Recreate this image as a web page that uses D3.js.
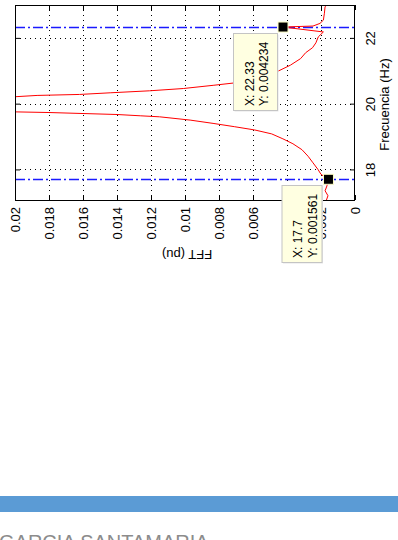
<!DOCTYPE html>
<html>
<head>
<meta charset="utf-8">
<script src="https://cdn.jsdelivr.net/npm/d3@7"></script>
<style>
  html, body { margin: 0; padding: 0; background: #ffffff; }
  svg { display: block; font-family: "Liberation Sans", Arial, sans-serif; }
</style>
</head>
<body>
<svg id="chart" width="398" height="540"></svg>
<script>
// ---- Data ----
const freqHz = [17.07, 17.2, 17.35, 17.5, 17.7, 17.85, 18.0, 18.2, 18.4, 18.6, 18.78, 18.93, 19.08, 19.2, 19.3, 19.4, 19.5, 19.6, 19.63, 19.67, 19.7, 19.73, 19.76, 19.85, 20.0, 20.15, 20.21, 20.25, 20.28, 20.33, 20.39, 20.46, 20.56, 20.63, 20.8, 20.97, 21.17, 21.37, 21.55, 21.7, 21.85, 22.03, 22.18, 22.33, 22.36, 22.44, 22.54, 22.75, 22.95, 23.0];
const fftPu  = [0.00168, 0.00159, 0.00176, 0.00165, 0.001561, 0.0020, 0.00218, 0.00247, 0.00276, 0.00312, 0.00365, 0.00424, 0.00490, 0.0059, 0.0071, 0.00835, 0.0097, 0.0115, 0.0126, 0.0140, 0.0160, 0.0180, 0.0210, 0.030, 0.045, 0.028, 0.0200, 0.0187, 0.0162, 0.0144, 0.0121, 0.0101, 0.0083, 0.0071, 0.0055, 0.0046, 0.0038, 0.0032, 0.0029, 0.0025, 0.0023, 0.00216, 0.00186, 0.004234, 0.00247, 0.00206, 0.00186, 0.0018, 0.00176, 0.00165];
const valueTicks = [0, 0.002, 0.004, 0.006, 0.008, 0.01, 0.012, 0.014, 0.016, 0.018, 0.02];
const valueTickLabels = ["0", "0.002", "0.004", "0.006", "0.008", "0.01", "0.012", "0.014", "0.016", "0.018", "0.02"];
const freqTicks = [18, 20, 22];
const freqTickLabels = ["18", "20", "22"];
const markerFreqs = [17.7, 22.33];
const markerValues = [0.001561, 0.004234];
const freqDomain = [17.07, 23];
const valueDomain = [0, 0.02];
const freqLabel = "Frecuencia (Hz)";
const valueLabel = "FFT (pu)";
const footerText = "GARCIA SANTAMARIA";

// ---- Layout ----
const svg = d3.select("#chart");
const L = 15, R = 355, T = 5, B = 200;
const xV = d3.scaleLinear().domain(valueDomain).range([R, L]);
const yF = d3.scaleLinear().domain(freqDomain).range([B, T]);

svg.append("defs").append("clipPath").attr("id", "plotclip")
  .append("rect").attr("x", L).attr("y", T).attr("width", R - L).attr("height", B - T);

svg.append("rect").attr("x", L).attr("y", T).attr("width", R - L).attr("height", B - T).attr("fill", "#fff");

// grid (dotted)
const grid = svg.append("g").attr("stroke", "#000").attr("stroke-width", 1).attr("stroke-dasharray", "1,4")
  .attr("shape-rendering", "crispEdges");
grid.selectAll("line.gv").data(valueTicks.filter(d => d > 0 && d < 0.02)).join("line").attr("class", "gv")
  .attr("x1", d => Math.round(xV(d)) + 0.5).attr("x2", d => Math.round(xV(d)) + 0.5)
  .attr("y1", T).attr("y2", B);
grid.selectAll("line.gf").data(freqTicks).join("line").attr("class", "gf")
  .attr("y1", d => Math.round(yF(d)) + 0.5).attr("y2", d => Math.round(yF(d)) + 0.5)
  .attr("x1", L).attr("x2", R);

// blue dash-dot reference lines at marker frequencies
svg.append("g").attr("class", "refs").selectAll("line").data(markerFreqs).join("line")
  .attr("x1", L).attr("x2", R)
  .attr("y1", d => Math.round(yF(d)) + 0.5).attr("y2", d => Math.round(yF(d)) + 0.5)
  .style("stroke", "#1a1aff").style("stroke-width", "1.6px").style("stroke-dasharray", "10,3,2,3");

// red curve
const pts = freqHz.map((f, i) => [f, fftPu[i]]);
svg.append("path").datum(pts)
  .attr("clip-path", "url(#plotclip)")
  .attr("fill", "none").attr("stroke", "#ff0000").attr("stroke-width", 1)
  .attr("d", d3.line().x(d => xV(d[1])).y(d => yF(d[0])));

// axes
const axBottom = svg.append("g").attr("transform", `translate(0,${B})`)
  .call(d3.axisBottom(xV).tickValues(valueTicks).tickFormat((d, i) => valueTickLabels[i]).tickSizeInner(-5).tickSizeOuter(0));
axBottom.select(".domain").remove();
axBottom.selectAll("text")
  .attr("transform", "rotate(-90)").attr("x", -7).attr("y", 0).attr("dy", "0.35em")
  .style("text-anchor", "end").attr("font-size", 13).attr("fill", "#000");

const axTop = svg.append("g").attr("transform", `translate(0,${T})`)
  .call(d3.axisTop(xV).tickValues(valueTicks).tickFormat("").tickSizeInner(-5).tickSizeOuter(0));
axTop.select(".domain").remove();

const axRight = svg.append("g").attr("transform", `translate(${R},0)`)
  .call(d3.axisRight(yF).tickValues(freqTicks).tickFormat((d, i) => freqTickLabels[i]).tickSizeInner(-5).tickSizeOuter(0));
axRight.select(".domain").remove();
axRight.selectAll("text")
  .attr("transform", "rotate(-90)").attr("x", 0).attr("y", 20).attr("dy", 0)
  .style("text-anchor", "middle").attr("font-size", 13).attr("fill", "#000");

const axLeft = svg.append("g").attr("transform", `translate(${L},0)`)
  .call(d3.axisLeft(yF).tickValues(freqTicks).tickFormat("").tickSizeInner(-5).tickSizeOuter(0));
axLeft.select(".domain").remove();

svg.selectAll(".tick line").attr("stroke", "#000");

// frame
svg.append("rect").attr("x", L + 0.5).attr("y", T + 0.5).attr("width", R - L - 1).attr("height", B - T)
  .attr("fill", "none").attr("stroke", "#000").attr("stroke-width", 1);

// axis labels
svg.append("text").attr("transform", `translate(389,${(T + B) / 2 + 2}) rotate(-90)`)
  .attr("text-anchor", "middle").attr("font-size", 13).attr("fill", "#000").text(freqLabel);
svg.append("text").attr("transform", `translate(${(L + R) / 2 + 2},250) rotate(180)`)
  .attr("text-anchor", "middle").attr("font-size", 13).attr("fill", "#000").text(valueLabel);

// data tips
const tips = [
  { f: markerFreqs[1], v: markerValues[1], box: [233, 33, 44, 77], lines: ["X: 22.33", "Y: 0.004234"] },
  { f: markerFreqs[0], v: markerValues[0], box: [281.5, 185, 40, 77], lines: ["X: 17.7", "Y: 0.001561"] }
];
tips.forEach(t => {
  const g = svg.append("g");
  g.append("rect").attr("x", t.box[0] + 1.5).attr("y", t.box[1] + 1.5).attr("width", t.box[2]).attr("height", t.box[3])
    .attr("fill", "#e6e6e6");
  g.append("rect").attr("x", t.box[0] + 0.5).attr("y", t.box[1] + 0.5).attr("width", t.box[2]).attr("height", t.box[3])
    .attr("fill", "#ffffe1").attr("stroke", "#c4c4c4").attr("stroke-width", 1);
  t.lines.forEach((s, i) => {
    g.append("text")
      .attr("transform", `translate(${t.box[0] + 20.5 + i * 14.5},${t.box[1] + t.box[3] - 4}) rotate(-90)`)
      .attr("font-size", 12).attr("fill", "#000").text(s);
  });
  g.append("rect").attr("x", xV(t.v) - 5).attr("y", yF(t.f) - 5).attr("width", 10).attr("height", 10)
    .attr("fill", "#000").attr("stroke", "#ffffc8").attr("stroke-width", 1);
});

// footer band and text (the reference shows this text cut off by the bottom edge)
svg.append("rect").attr("x", 0).attr("y", 496).attr("width", 398).attr("height", 16).attr("fill", "#5b9bd5");
svg.append("text").attr("x", -1).attr("y", 549).attr("font-size", 20).attr("fill", "#8c8c8c").text(footerText);
</script>
</body>
</html>
